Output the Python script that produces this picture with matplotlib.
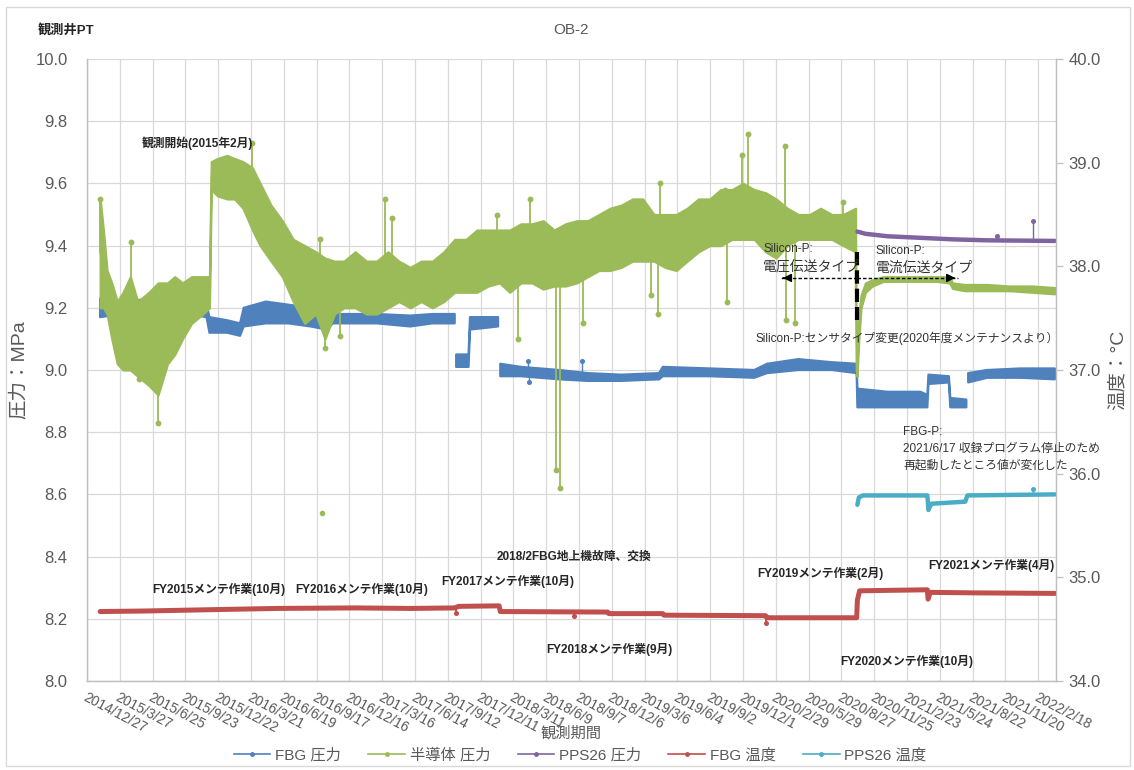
import numpy as np
import pandas as pd
import matplotlib
matplotlib.use("Agg")
import matplotlib.pyplot as plt
from matplotlib.lines import Line2D
from matplotlib.patches import Rectangle

plt.rcParams['font.family'] = ['Liberation Sans', 'Noto Sans CJK JP', 'DejaVu Sans']

# ---------------- data ----------------
# semiconductor pressure sensor (voltage-transmission type), band low/high [MPa]
semi_dates = [
    "2015-02-01", "2015-02-10", "2015-02-20", "2015-03-05", "2015-03-20", "2015-04-05", "2015-04-25", "2015-05-15",
    "2015-06-15", "2015-07-10", "2015-08-05", "2015-08-25", "2015-09-15", "2015-10-10", "2015-11-10", "2015-11-28",
    "2015-12-03", "2015-12-20", "2016-01-15", "2016-02-05", "2016-02-28", "2016-03-25", "2016-04-15", "2016-05-15",
    "2016-06-15", "2016-07-15", "2016-08-15", "2016-09-15", "2016-10-10", "2016-11-05", "2016-12-01",
    "2017-01-01", "2017-02-01", "2017-03-01", "2017-04-01", "2017-05-01", "2017-06-01", "2017-07-01", "2017-08-01",
    "2017-09-01", "2017-10-01", "2017-11-01", "2017-12-01",
    "2018-01-01", "2018-02-01", "2018-03-01", "2018-04-01", "2018-05-01", "2018-06-01", "2018-07-01", "2018-08-01",
    "2018-09-01", "2018-10-01", "2018-11-01", "2018-12-01",
    "2019-01-01", "2019-02-01", "2019-03-01", "2019-04-01", "2019-05-01", "2019-06-01", "2019-07-01", "2019-08-01",
    "2019-09-01", "2019-10-01", "2019-11-01", "2019-12-01",
    "2020-01-01", "2020-02-01", "2020-03-01", "2020-04-01", "2020-05-01", "2020-06-01", "2020-07-01", "2020-08-01",
    "2020-09-01", "2020-10-05",
]
semi_lo = [
    9.20, 9.20, 9.18, 9.10, 9.02, 9.00, 9.00, 8.98, 8.95, 8.92, 9.02, 9.05, 9.10, 9.15, 9.18, 9.20,
    9.58, 9.56, 9.55, 9.55, 9.52, 9.45, 9.40, 9.35, 9.30, 9.22, 9.15, 9.18, 9.10, 9.18, 9.20,
    9.20, 9.18, 9.18, 9.20, 9.22, 9.20, 9.22, 9.20, 9.22, 9.25, 9.25, 9.25,
    9.27, 9.28, 9.25, 9.28, 9.28, 9.26, 9.27, 9.27, 9.28, 9.30, 9.32, 9.32,
    9.33, 9.35, 9.35, 9.35, 9.33, 9.32, 9.35, 9.38, 9.40, 9.40, 9.42, 9.42,
    9.42, 9.38, 9.36, 9.40, 9.42, 9.42, 9.42, 9.42, 9.40, 9.38,
]
semi_hi = [
    9.55, 9.45, 9.32, 9.28, 9.22, 9.25, 9.30, 9.22, 9.25, 9.28, 9.28, 9.30, 9.28, 9.30, 9.30, 9.30,
    9.67, 9.68, 9.69, 9.68, 9.67, 9.65, 9.60, 9.53, 9.48, 9.42, 9.40, 9.38, 9.36, 9.35, 9.35,
    9.38, 9.35, 9.35, 9.38, 9.35, 9.33, 9.35, 9.35, 9.38, 9.42, 9.42, 9.45,
    9.45, 9.45, 9.45, 9.47, 9.47, 9.48, 9.45, 9.47, 9.48, 9.48, 9.50, 9.52,
    9.53, 9.55, 9.55, 9.50, 9.50, 9.50, 9.52, 9.55, 9.55, 9.58, 9.58, 9.60,
    9.58, 9.57, 9.55, 9.52, 9.50, 9.50, 9.52, 9.50, 9.50, 9.52,
]
# semiconductor pressure sensor (current-transmission type, from FY2020 maintenance)
semi2_dates = ["2020-10-09", "2020-10-14", "2020-10-20", "2020-11-01", "2020-11-20", "2020-12-20", "2021-02-01",
               "2021-04-01", "2021-05-15", "2021-06-20", "2021-06-28", "2021-08-01", "2021-10-01", "2021-12-01",
               "2022-02-01", "2022-04-05"]
semi2_lo = [8.98, 9.10, 9.20, 9.25, 9.27, 9.285, 9.285, 9.285, 9.285, 9.28, 9.262, 9.255, 9.255, 9.255, 9.25, 9.245]
semi2_hi = [9.02, 9.18, 9.24, 9.28, 9.29, 9.30, 9.30, 9.30, 9.30, 9.30, 9.28, 9.275, 9.275, 9.27, 9.27, 9.265]
# isolated excursions of the semiconductor sensor
semi_spike_dates = ["2015-02-01", "2015-04-27", "2015-05-20", "2015-07-10", "2016-03-25", "2016-09-26",
                    "2016-10-10", "2016-11-20", "2017-03-24", "2017-04-12", "2018-01-26", "2018-03-25",
                    "2018-04-26", "2018-07-05", "2018-07-17", "2018-09-18", "2019-03-25", "2019-04-12",
                    "2019-04-17", "2019-10-13", "2019-10-18", "2019-11-28", "2019-12-15", "2020-03-25",
                    "2020-03-28", "2020-04-22", "2020-08-31"]
semi_spike_vals = [9.55, 9.41, 8.97, 8.83, 9.73, 9.42,
                   9.07, 9.11, 9.55, 9.49, 9.50, 9.10,
                   9.55, 8.68, 8.62, 9.15, 9.24, 9.18,
                   9.60, 9.58, 9.22, 9.69, 9.76, 9.72,
                   9.16, 9.15, 9.54]
semi_outlier_date = ["2016-10-02"]
semi_outlier_val = [8.54]

# FBG pressure band low/high [MPa]  (nan = gap in record)
fbg_p_dates = [
    "2015-02-01", "2015-04-01", "2015-07-01", "2015-10-01", "2015-11-20", "2015-11-28", "2016-01-15", "2016-02-20",
    "2016-03-01", "2016-05-01", "2016-07-01", "2016-09-01", "2016-10-15", "2016-11-01", "2017-03-01", "2017-06-01",
    "2017-08-01", "2017-10-01", "2017-10-03",
    "2017-10-05", "2017-11-08", "2017-11-12", "2018-01-28", "2018-01-31",
    "2018-02-03", "2018-04-01", "2018-07-15", "2018-10-01", "2019-01-01", "2019-04-15", "2019-04-25", "2019-09-01",
    "2020-01-01", "2020-02-05", "2020-05-01", "2020-08-01", "2020-10-08",
    "2020-10-10", "2021-01-01", "2021-04-01", "2021-04-20", "2021-04-23", "2021-06-18", "2021-06-22", "2021-08-05",
    "2021-08-07",
    "2021-08-10", "2021-10-01", "2022-01-01", "2022-04-05",
]
nan = np.nan
fbg_p_lo = [
    9.17, 9.18, 9.18, 9.18, 9.17, 9.12, 9.12, 9.11,
    9.14, 9.15, 9.15, 9.14, 9.13, 9.15, 9.15, 9.14,
    9.15, 9.15, nan,
    9.01, 9.01, 9.13, 9.14, nan,
    8.98, 8.98, 8.97, 8.965, 8.965, 8.97, 8.98, 8.98,
    8.975, 8.99, 9.00, 9.00, 8.99,
    8.88, 8.88, 8.88, 8.88, 8.955, 8.96, 8.88, 8.88,
    nan,
    8.96, 8.975, 8.975, 8.97,
]
fbg_p_hi = [
    9.23, 9.22, 9.23, 9.22, 9.21, 9.17, 9.16, 9.15,
    9.20, 9.22, 9.21, 9.20, 9.19, 9.18, 9.18, 9.175,
    9.18, 9.18, nan,
    9.05, 9.05, 9.17, 9.17, nan,
    9.02, 9.01, 9.00, 8.99, 8.985, 8.99, 9.01, 9.005,
    9.00, 9.02, 9.035, 9.025, 9.02,
    8.94, 8.93, 8.93, 8.92, 8.985, 8.98, 8.91, 8.905,
    nan,
    8.99, 9.00, 9.005, 9.005,
]
fbg_p_spike_dates = ["2018-04-20", "2018-09-15", "2018-04-22"]
fbg_p_spike_vals = [9.03, 9.03, 8.96]

# PPS26 pressure [MPa]
pps_p_dates = ["2020-10-10", "2020-11-01", "2021-01-01", "2021-04-01", "2021-07-01", "2021-10-01", "2022-04-05"]
pps_p_vals = [9.445, 9.438, 9.43, 9.425, 9.42, 9.417, 9.415]
pps_p_spike_dates = ["2021-10-28", "2022-02-04"]
pps_p_spike_vals = [9.43, 9.48]

# FBG temperature [deg C]
fbg_t_dates = ["2015-02-01", "2015-06-01", "2016-01-01", "2016-06-01", "2017-01-01", "2017-06-01", "2017-10-01",
               "2017-10-12", "2018-01-31",
               "2018-02-03", "2018-11-25", "2018-11-28", "2019-04-25", "2019-04-28", "2020-02-01", "2020-02-05",
               "2020-10-08",
               "2020-10-10", "2020-10-16", "2021-04-20", "2021-04-22", "2021-04-28", "2021-09-01", "2022-04-05"]
fbg_t_vals = [34.67, 34.675, 34.69, 34.70, 34.705, 34.70, 34.705,
              34.72, 34.725,
              34.67, 34.665, 34.65, 34.65, 34.635, 34.63, 34.61,
              34.61,
              34.78, 34.87, 34.88, 34.79, 34.855, 34.85, 34.845]
fbg_t_spike_dates = ["2017-10-05", "2018-08-25", "2020-02-03"]
fbg_t_spike_vals = [34.66, 34.63, 34.56]

# PPS26 temperature [deg C]
pps_t_dates = ["2020-10-10", "2020-10-14", "2020-10-25", "2021-04-20", "2021-04-23", "2021-05-01", "2021-08-02",
               "2021-08-08", "2022-04-05"]
pps_t_vals = [35.70, 35.77, 35.79, 35.79, 35.65, 35.71, 35.73, 35.79, 35.80]
pps_t_spike_dates = ["2022-02-04"]
pps_t_spike_vals = [35.85]

# axis ticks
x_start = "2014-12-27"
x_step_days = 90
x_ticks_n = 30
x_end = "2022-04-08"
switch_date = "2020-10-09"
arrow_left_date = "2020-03-12"
arrow_right_date = "2021-07-13"

# ---------------- styling ----------------
C_BLUE = "#4F81BD"
C_GREEN = "#9BBB59"
C_PURPLE = "#8064A2"
C_RED = "#C0504D"
C_CYAN = "#4BACC6"
GRID = "#D9D9D9"
AXIS = "#BFBFBF"
TXT = "#595959"

W, H = 1134, 770
fig = plt.figure(figsize=(W / 100, H / 100), dpi=100)
fig.patch.set_facecolor("white")
L, R, T, B = 87, 1056, 59, 681
ax = fig.add_axes([L / W, 1 - B / H, (R - L) / W, (B - T) / H])
ax2 = ax.twinx()

D = pd.to_datetime


def band(axis, dates, lo, hi, color, z, lw=1.6):
    x = D(dates)
    lo = np.asarray(lo, float)
    hi = np.asarray(hi, float)
    axis.fill_between(x, lo, hi, facecolor=color, edgecolor=color, lw=lw, zorder=z)
    axis.plot(x, (lo + hi) / 2, color=color, lw=0.8, zorder=z)


def spikes(axis, dates, vals, base_dates, base_lo, base_hi, color, z, ms=3.2, lw=1.3):
    x = D(dates)
    bx = D(base_dates).map(pd.Timestamp.toordinal).to_numpy(float)
    blo = np.asarray(base_lo, float)
    bhi = np.asarray(base_hi, float)
    ok = np.isfinite(blo)
    mid = np.interp(x.map(pd.Timestamp.toordinal).to_numpy(float), bx[ok], ((blo + bhi) / 2)[ok])
    axis.vlines(x, mid, vals, color=color, lw=lw, zorder=z)
    axis.plot(x, vals, "o", color=color, ms=ms, mec=color, zorder=z)


# FBG pressure
band(ax, fbg_p_dates, fbg_p_lo, fbg_p_hi, C_BLUE, 2)
spikes(ax, fbg_p_spike_dates, fbg_p_spike_vals, fbg_p_dates, fbg_p_lo, fbg_p_hi, C_BLUE, 2, ms=2.6, lw=1.0)

# semiconductor pressure
band(ax, semi_dates, semi_lo, semi_hi, C_GREEN, 3)
band(ax, semi2_dates, semi2_lo, semi2_hi, C_GREEN, 3)
ax.plot(D([semi_dates[-1], semi2_dates[0]]),
        [(semi_lo[-1] + semi_hi[-1]) / 2, (semi2_lo[0] + semi2_hi[0]) / 2], color=C_GREEN, lw=2.0, zorder=3)
spikes(ax, semi_spike_dates, semi_spike_vals, semi_dates, semi_lo, semi_hi, C_GREEN, 3)
ax.plot(D(semi_outlier_date), semi_outlier_val, "o", color=C_GREEN, ms=3.0, zorder=3)

# PPS26 pressure
ax.plot(D(pps_p_dates), pps_p_vals, color=C_PURPLE, lw=3.2, zorder=4, solid_capstyle="round")
spikes(ax, pps_p_spike_dates, pps_p_spike_vals, pps_p_dates, pps_p_vals, pps_p_vals, C_PURPLE, 4, ms=2.6, lw=1.0)

# temperatures on the secondary axis
ax2.plot(D(fbg_t_dates), fbg_t_vals, color=C_RED, lw=3.6, zorder=5, solid_capstyle="round")
spikes(ax2, fbg_t_spike_dates, fbg_t_spike_vals, fbg_t_dates, fbg_t_vals, fbg_t_vals, C_RED, 5, ms=2.6, lw=1.4)
ax2.plot(D(pps_t_dates), pps_t_vals, color=C_CYAN, lw=3.2, zorder=5, solid_capstyle="round")
spikes(ax2, pps_t_spike_dates, pps_t_spike_vals, pps_t_dates, pps_t_vals, pps_t_vals, C_CYAN, 5, ms=2.6, lw=1.0)

# sensor-change marker and arrows
ax.plot(D([switch_date, switch_date]), [9.38, 9.16], color="black", lw=3, dashes=(3.2, 1.2), zorder=6)
for tgt in (arrow_left_date, arrow_right_date):
    ax.plot(D([switch_date, tgt]), [9.296, 9.296], color="black", lw=1.0, dashes=(2.5, 1.5), zorder=6)
    ax.annotate("", xy=(D(tgt), 9.296), xytext=(D(tgt) + (D(switch_date) - D(tgt)) * 0.08, 9.296),
                arrowprops=dict(arrowstyle="-|>,head_length=0.5,head_width=0.25", color="black", lw=1.0),
                zorder=6)

# ---------------- axes ----------------
ticks = pd.date_range(x_start, periods=x_ticks_n, freq=f"{x_step_days}D")
ax.set_xlim(D(x_start), D(x_end))
ax.set_xticks(ticks)
ax.set_xticklabels([f"{t.year}/{t.month}/{t.day}" for t in ticks], rotation=-28, ha="left", va="top",
                   rotation_mode="anchor", fontsize=10, color=TXT)
ax.set_ylim(8.0, 10.0)
ax.set_yticks(np.arange(8.0, 10.01, 0.2))
ax.set_yticklabels([f"{v:.1f}" for v in np.arange(8.0, 10.01, 0.2)], fontsize=12, color=TXT)
ax2.set_ylim(34.0, 40.0)
ax2.set_yticks(np.arange(34.0, 40.01, 1.0))
ax2.set_yticklabels([f"{v:.1f}" for v in np.arange(34.0, 40.01, 1.0)], fontsize=12, color=TXT)

ax.grid(True, color=GRID, lw=0.9)
ax.set_axisbelow(True)
ax.tick_params(axis="x", length=0, pad=7)
ax.tick_params(axis="y", length=0, pad=14)
ax2.tick_params(axis="y", length=5, color=AXIS, width=0.9, pad=4)
for a in (ax, ax2):
    a.spines["top"].set_visible(False)
    for s in ("left", "right", "bottom"):
        a.spines[s].set_color(AXIS)
        a.spines[s].set_linewidth(0.9)

# ---------------- text ----------------
def put(x, y, s, **kw):
    kw.setdefault("va", "center")
    kw.setdefault("ha", "left")
    fig.text(x / W, 1 - y / H, s, **kw)


put(38, 30, "観測井PT", fontsize=9.5, weight="bold", color="#262626")
put(571, 30, "OB-2", fontsize=11, color=TXT, ha="center")
put(19, 370, "圧力：MPa", fontsize=14, color=TXT, ha="center", rotation=90)
put(1118, 370, "温度：°C", fontsize=14, color=TXT, ha="center", rotation=90)
put(571, 733, "観測期間", fontsize=11, color=TXT, ha="center")

bold_notes = [
    ("観測開始(2015年2月)", 142, 143),
    ("FY2015メンテ作業(10月)", 152, 589),
    ("FY2016メンテ作業(10月)", 295, 590),
    ("FY2017メンテ作業(10月)", 441, 582),
    ("2018/2FBG地上機故障、交換", 497, 557),
    ("FY2018メンテ作業(9月)", 546, 650),
    ("FY2019メンテ作業(2月)", 757, 574),
    ("FY2020メンテ作業(10月)", 840, 662),
    ("FY2021メンテ作業(4月)", 928, 565),
]
for s, x, y in bold_notes:
    put(x, y, s, fontsize=8.5, weight="bold", color="#262626")

plain = "#333333"
put(763, 249, "Silicon-P:", fontsize=8.5, color=plain)
put(763, 267, "電圧伝送タイプ", fontsize=10, color=plain)
put(876, 251, "Silicon-P:", fontsize=8.5, color=plain)
put(876, 268, "電流伝送タイプ", fontsize=10, color=plain)
put(755, 338, "Silicon-P:センサタイプ変更(2020年度メンテナンスより）", fontsize=8.5, color=plain)
put(903, 432, "FBG-P:", fontsize=8.5, color=plain)
put(903, 449, "2021/6/17 収録プログラム停止のため", fontsize=8.5, color=plain)
put(903, 466, "再起動したところ値が変化した", fontsize=8.5, color=plain)

# legend
handles = [Line2D([], [], color=c, lw=1.2, marker="o", ms=2.5) for c in (C_BLUE, C_GREEN, C_PURPLE, C_RED, C_CYAN)]
labels = ["FBG 圧力", "半導体 圧力", "PPS26 圧力", "FBG 温度", "PPS26 温度"]
fig.legend(handles, labels, loc="center", bbox_to_anchor=(580 / W, 1 - 755 / H), ncol=5, frameon=False,
           fontsize=11, labelcolor=TXT, handlelength=2.4, columnspacing=1.8, handletextpad=0.3)

# chart-area border
fig.add_artist(Rectangle((6 / W, 1 - 766 / H), (1130 - 6) / W, (766 - 7) / H, transform=fig.transFigure,
                         fill=False, edgecolor=GRID, lw=1))

fig.savefig("out.png", dpi=100)
